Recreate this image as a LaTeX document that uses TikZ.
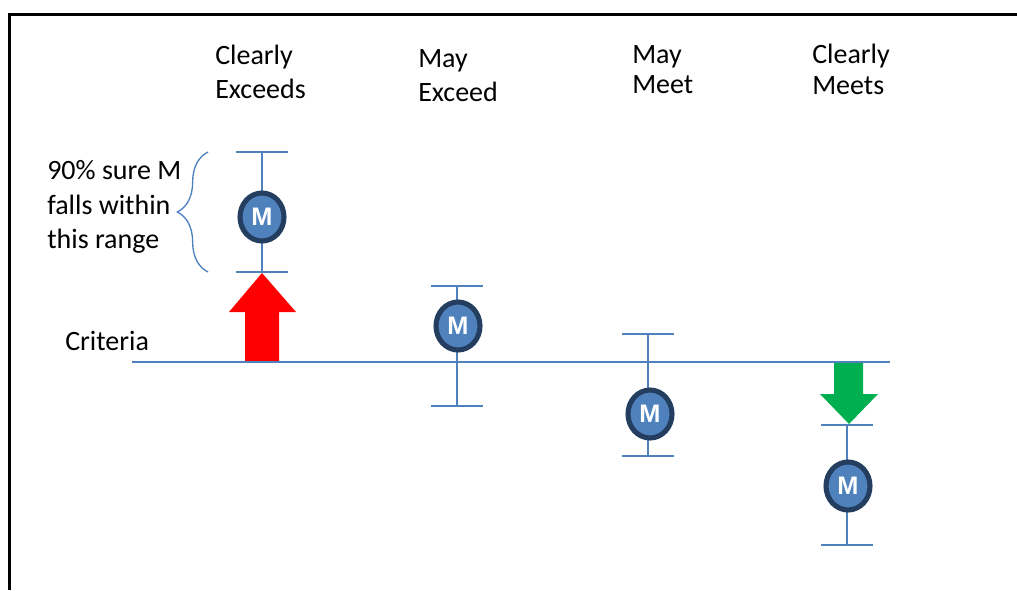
\documentclass[tikz,border=0pt]{standalone}
\usepackage{fontspec}
\setmainfont{Carlito}
\newfontfamily\meanfont{Liberation Sans}
\usetikzlibrary{shapes.geometric,decorations.pathreplacing}

\definecolor{barblue}{RGB}{79,129,189}
\definecolor{ringblue}{RGB}{36,62,96}
\definecolor{upred}{RGB}{255,0,0}
\definecolor{downgreen}{RGB}{0,176,80}

\tikzset{
  bar/.style={draw=barblue, line width=1.5pt},
  mean/.style={ellipse, fill=barblue, draw=ringblue, line width=3.8pt,
    minimum width=33pt, minimum height=36pt, inner sep=0pt,
    text=white, font=\fontsize{19}{19}\selectfont\meanfont\bfseries},
  heading/.style={anchor=north west, inner sep=0pt, align=left,
    font=\fontsize{21}{25.5}\selectfont},
}

\begin{document}
\begin{tikzpicture}[x=0.75pt,y=0.75pt,yscale=-1,xscale=1]
\useasboundingbox (0,0) rectangle (1017,590);

%Frame
\draw [line width=2.25pt] (9,590) -- (9,14) -- (1017,14) ;

%Shape: Up Arrow
\fill [upred] (245,362) -- (245,312) -- (229,312) -- (262,273) -- (296,312) -- (279,312) -- (279,362) -- cycle ;
%Shape: Down Arrow
\fill [downgreen] (834,362) -- (834,394) -- (820,394) -- (849,424) -- (878,394) -- (863,394) -- (863,362) -- cycle ;

%Criteria line
\coordinate (critL) at (132,362) ;
\coordinate (critR) at (890,362) ;
\draw [bar] (critL) -- (critR) ;

%Error bars with their means
\foreach \x/\top/\bot/\mx/\my [count=\i] in {262/152/272/262/217, 457/286/406/458/326, 648/334/456/650/414, 847/425/545/848/486}
{
  \coordinate (t\i) at (\x,\top) ;
  \coordinate (b\i) at (\x,\bot) ;
  \draw [bar] ([xshift=-19.5pt]t\i) -- ([xshift=19.5pt]t\i) ;
  \draw [bar] ([xshift=-19.5pt]b\i) -- ([xshift=19.5pt]b\i) ;
  \draw [bar] (t\i) -- (b\i) ;
  \node [mean] (m\i) at (\mx,\my) {M} ;
}

%Brace
\draw [barblue, line width=1pt, decorate, decoration={brace, amplitude=23pt}] (208,272) -- (208,152) ;

% Text Node
\node [heading] (ce) at (215,45) {Clearly\\Exceeds} ;
% Text Node
\node [heading] (me) at (418,49) {May\\Exceed} ;
% Text Node
\node [heading] (mm) at (632,45) {May\\[-2.5pt]Meet} ;
% Text Node
\node [heading] (cm) at (812,44) {Clearly\\[-2.5pt]Meets} ;
% Text Node
\node [heading] (range) at (47,160) {90\% sure M\\[0.5pt]falls within\\[0.5pt]this range} ;
% Text Node
\node [heading, anchor=base west] (crit) at (65,350) {Criteria} ;

\end{tikzpicture}
\end{document}
